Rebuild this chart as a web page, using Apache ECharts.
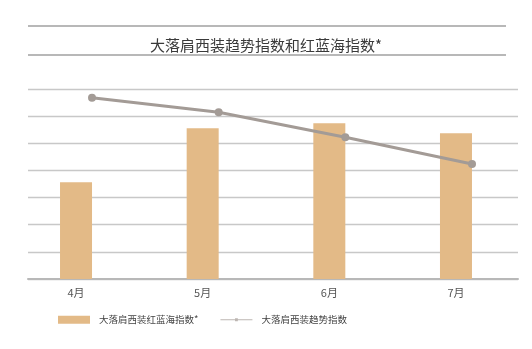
<!DOCTYPE html>
<html>
<head>
<meta charset="utf-8">
<script src="https://cdn.jsdelivr.net/npm/echarts@6/dist/echarts.min.js"></script>
<style>
html,body{margin:0;padding:0;background:#fff;}
#c{width:532px;height:349px;}
</style>
</head>
<body>
<div id="c"></div>
<script>
const titleText = '大落肩西装趋势指数和红蓝海指数*';
const categories = ['4月', '5月', '6月', '7月'];
const barName = '大落肩西装红蓝海指数*';
const barValues = [35.6, 55.5, 57.4, 53.7];
const lineName = '大落肩西装趋势指数';
const lineValues = [66.8, 61.4, 52.2, 42.4];
const yMin = 0, yMax = 70, yStep = 10;

const chart = echarts.init(document.getElementById('c'), null, {renderer: 'canvas'});
const font = '"Noto Sans CJK SC", "Noto Sans", sans-serif';
const gridTop = 89, gridBottom = 70;

chart.setOption({
  animation: false,
  backgroundColor: '#ffffff',
  title: {
    text: titleText,
    left: 'center',
    top: 33,
    textStyle: {fontFamily: font, fontSize: 15, fontWeight: 'normal', color: '#3a3a3a'}
  },
  graphic: [
    {type: 'line', shape: {x1: 28, y1: 26, x2: 506, y2: 26}, style: {stroke: '#a0a0a0', lineWidth: 1.5}},
    {type: 'line', shape: {x1: 28, y1: 55, x2: 506, y2: 55}, style: {stroke: '#a0a0a0', lineWidth: 1.5}}
  ],
  legend: {
    left: 53,
    top: 310,
    itemWidth: 32,
    itemHeight: 8,
    itemGap: 22,
    textStyle: {fontFamily: font, fontSize: 9.5, color: '#444', padding: [0, 0, 0, 4]},
    data: [
      {name: barName, icon: 'rect'},
      {name: lineName,
       icon: 'path://M0,3.4 L32,3.4 L32,4.6 L0,4.6 Z M14.6,2.6 L17.4,2.6 L17.4,5.4 L14.6,5.4 Z',
       itemStyle: {color: '#bdb6b2'}}
    ]
  },
  grid: [
    {left: 28, right: 14, top: gridTop, bottom: gridBottom},
    {left: 12.7, right: 12.7, top: gridTop, bottom: gridBottom},
    {left: 92, right: 60, top: gridTop, bottom: gridBottom}
  ],
  xAxis: [
    {gridIndex: 0, type: 'category', data: categories, axisLabel: {show: false}, axisTick: {show: false},
     axisLine: {show: true, lineStyle: {color: '#b8b8b8', width: 2}}},
    {gridIndex: 1, type: 'category', data: categories, axisTick: {show: false}, axisLine: {show: false},
     axisLabel: {fontFamily: font, fontSize: 11, color: '#555', margin: 8}},
    {gridIndex: 2, type: 'category', data: categories, boundaryGap: false, show: false}
  ],
  yAxis: [
    {gridIndex: 0, type: 'value', min: yMin, max: yMax, interval: yStep, axisLabel: {show: false},
     axisLine: {show: false}, axisTick: {show: false},
     splitLine: {lineStyle: {color: '#c8c8c8', width: 1.3}}},
    {gridIndex: 1, type: 'value', min: yMin, max: yMax, interval: yStep, show: false},
    {gridIndex: 2, type: 'value', min: yMin, max: yMax, interval: yStep, show: false}
  ],
  series: [
    {name: barName, type: 'bar', xAxisIndex: 1, yAxisIndex: 1, data: barValues, barWidth: 32,
     itemStyle: {color: '#e3ba87'}},
    {name: lineName, type: 'line', xAxisIndex: 2, yAxisIndex: 2, data: lineValues,
     symbol: 'circle', symbolSize: 8, lineStyle: {color: '#a39b96', width: 3},
     itemStyle: {color: '#a39b96'}}
  ]
});
</script>
</body>
</html>
